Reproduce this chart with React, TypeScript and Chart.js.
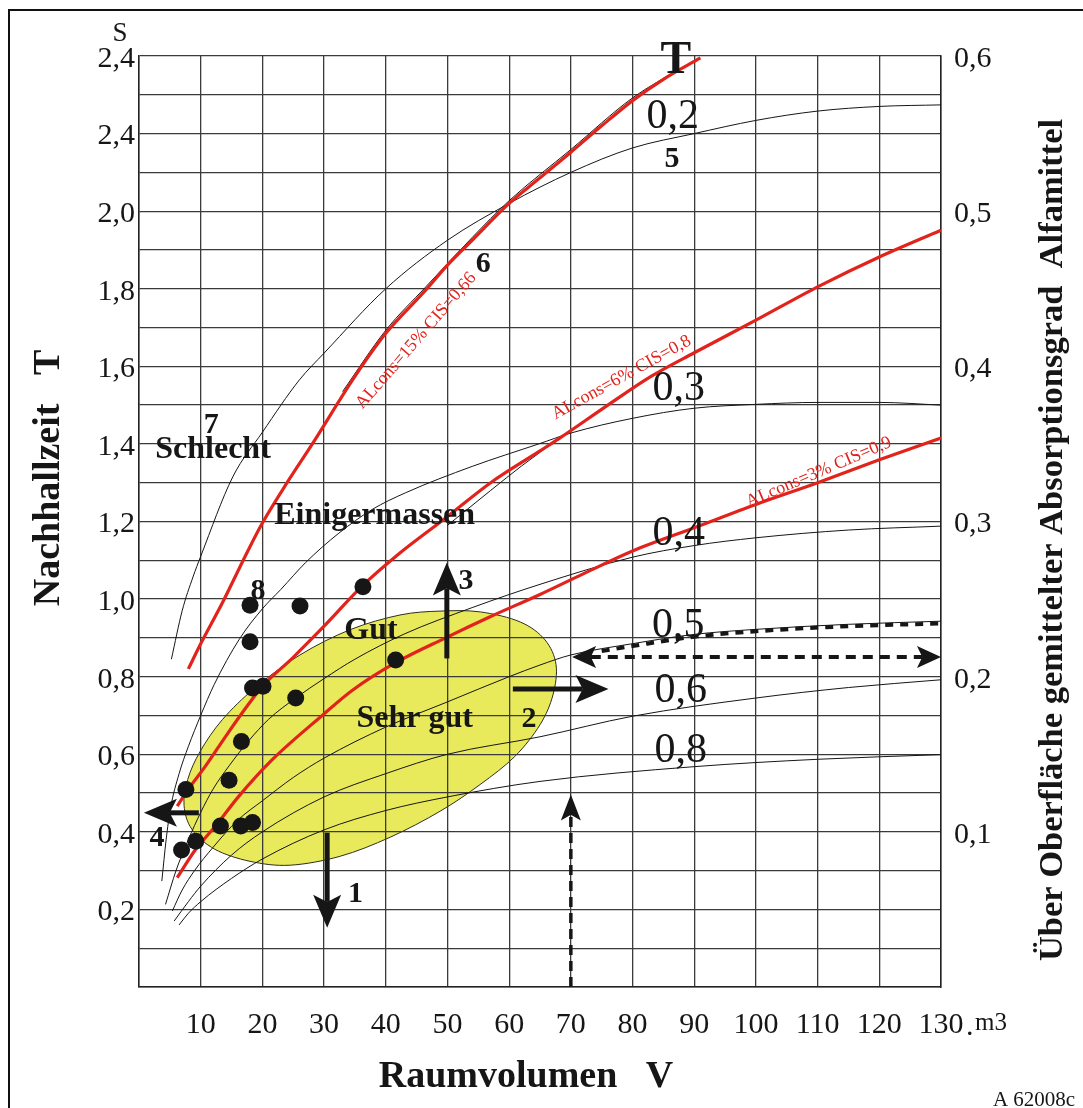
import React, { useEffect, useRef } from 'react';
import { Chart, registerables } from 'chart.js';

Chart.register(...registerables);

type P = [number, number];

// ---- axis ticks ----
const xTickValues = [10, 20, 30, 40, 50, 60, 70, 80, 90, 100, 110, 120, 130];
const xTickLabels = ['10', '20', '30', '40', '50', '60', '70', '80', '90', '100', '110', '120', '130'];
const leftTickValues = [0.2, 0.4, 0.6, 0.8, 1.0, 1.2, 1.4, 1.6, 1.8, 2.0, 2.2, 2.4];
const leftTickLabels = ['0,2', '0,4', '0,6', '0,8', '1,0', '1,2', '1,4', '1,6', '1,8', '2,0', '2,4', '2,4'];
const rightTickValues = [0.1, 0.2, 0.3, 0.4, 0.5, 0.6];
const rightTickLabels = ['0,1', '0,2', '0,3', '0,4', '0,5', '0,6'];

// ---- black reverberation-time curves (V in m3, T in s) ----
const curveA02: P[] = [[5.25, 0.845], [7, 0.97], [8.75, 1.057], [10, 1.11], [15.2, 1.315], [20, 1.43], [26, 1.565], [30, 1.634], [40, 1.8], [50, 1.925], [60, 2.02], [70, 2.1], [80, 2.163], [90, 2.2], [100, 2.234], [110, 2.258], [120, 2.27], [130, 2.274]];
const curveA03: P[] = [[3.7, 0.273], [4.4, 0.38], [5.1, 0.46], [6.5, 0.55], [8, 0.62], [10, 0.7], [12.2, 0.78], [16.2, 0.895], [20, 0.975], [23, 1.025], [27, 1.094], [32.4, 1.17], [37.8, 1.231], [43.2, 1.274], [54, 1.342], [64.8, 1.4], [70, 1.428], [80, 1.466], [90, 1.492], [100, 1.502], [110, 1.507], [120, 1.507], [130, 1.5]];
const curveA04: P[] = [[4.3, 0.213], [6, 0.3], [8, 0.38], [10, 0.45], [12, 0.51], [14.6, 0.57], [17.8, 0.635], [21, 0.69], [25.4, 0.745], [30, 0.795], [35, 0.845], [43, 0.91], [54, 0.978], [65, 1.038], [80, 1.108], [90, 1.138], [100, 1.158], [115, 1.178], [130, 1.188]];
const curveA05: P[] = [[5.4, 0.196], [7, 0.25], [9, 0.3], [12, 0.36], [16, 0.43], [20, 0.48], [25, 0.54], [30, 0.59], [40, 0.67], [50, 0.735], [60, 0.8], [65, 0.83], [70, 0.856], [80, 0.885], [90, 0.909], [100, 0.922], [115, 0.935], [130, 0.943]];
const curveA06: P[] = [[5.7, 0.17], [8, 0.22], [10, 0.26], [15, 0.34], [20, 0.4], [30, 0.49], [40, 0.55], [50, 0.6], [65, 0.645], [80, 0.698], [100, 0.745], [115, 0.772], [130, 0.792]];
const curveA08: P[] = [[6.5, 0.16], [8, 0.19], [10, 0.22], [15, 0.28], [20, 0.33], [30, 0.405], [40, 0.455], [50, 0.49], [65, 0.53], [90, 0.568], [110, 0.587], [130, 0.599]];
const curveAlong15: P[] = [[33, 1.535], [40, 1.693], [46.5, 1.805], [54, 1.932], [60, 2.027], [70, 2.159], [80, 2.292], [88, 2.37]];
const curveAlong6: P[] = [[50, 1.19], [57, 1.28], [62, 1.343], [68.2, 1.415]];

// ---- red ALcons curves ----
const alcons15: P[] = [[8, 0.82], [10, 0.885], [13.5, 0.99], [17.7, 1.126], [20, 1.196], [24, 1.3], [28.1, 1.4], [35, 1.574], [40, 1.685], [46.5, 1.797], [50, 1.861], [54, 1.925], [60, 2.02], [65, 2.086], [70, 2.152], [75, 2.22], [80, 2.285], [85, 2.34], [91, 2.395]];
const alcons6: P[] = [[6.2, 0.466], [8, 0.51], [10.8, 0.57], [14, 0.645], [17.8, 0.73], [20, 0.775], [25, 0.85], [30, 0.93], [36.2, 1.034], [42, 1.115], [49.7, 1.209], [57, 1.3], [64.8, 1.38], [68.2, 1.415], [76, 1.5], [83, 1.574], [90, 1.635], [100, 1.719], [110, 1.805], [120, 1.882], [130, 1.951]];
const alcons3: P[] = [[6.2, 0.282], [9.2, 0.355], [12.4, 0.415], [16.2, 0.492], [21.6, 0.586], [29.7, 0.7], [34.6, 0.765], [41.6, 0.836], [49.7, 0.9], [57, 0.955], [65, 1.012], [72, 1.065], [80, 1.124], [90, 1.184], [100, 1.244], [110, 1.3], [120, 1.359], [130, 1.415]];

// dotted line along the 0,5 curve
const dotted05: P[] = [[75, 0.866], [80, 0.879], [90, 0.903], [100, 0.917], [115, 0.93], [130, 0.937]];

// measured rooms
const roomPoints: P[] = [[18.0, 0.984], [26.1, 0.982], [18.0, 0.89], [36.3, 1.032], [41.6, 0.843], [18.4, 0.771], [20.1, 0.775], [25.4, 0.745], [16.6, 0.633], [14.6, 0.533], [7.6, 0.509], [13.2, 0.415], [16.5, 0.415], [18.4, 0.424], [9.2, 0.376], [6.9, 0.353]];

// "Sehr gut" zone outline
const zoneOutline: P[] = [[26.1, 0.856], [34.2, 0.921], [42.3, 0.959], [48.8, 0.969], [55.3, 0.967], [61.8, 0.941], [65.8, 0.895], [67.6, 0.831], [67.1, 0.753], [65.0, 0.676], [60.9, 0.594], [55.3, 0.522], [48.8, 0.453], [40.7, 0.386], [32.6, 0.337], [24.5, 0.314], [18.0, 0.324], [12.3, 0.355], [8.6, 0.406], [7.3, 0.468], [7.9, 0.535], [9.9, 0.607], [13.5, 0.689], [18.8, 0.771]];

// arrows (V, T)
const solidArrows: { from: P; to: P }[] = [
  { from: [30.5, 0.398], to: [30.5, 0.153] },
  { from: [60.6, 0.768], to: [76.1, 0.768] },
  { from: [49.9, 0.847], to: [49.9, 1.094] },
  { from: [9.7, 0.449], to: [0.8, 0.449] },
];
const dashedDoubleArrow: { from: P; to: P } = { from: [70.2, 0.851], to: [130, 0.851] };
const dashedUpArrow: { from: P; to: P } = { from: [70, 0], to: [70, 0.496] };

// labels inside the plot: text, V, T (baseline)
const plotLabels: { text: string; v: number; t: number; kind: string }[] = [
  { text: 'T', v: 87.0, t: 2.355, kind: 'big' },
  { text: '0,2', v: 86.5, t: 2.214, kind: 'alpha' },
  { text: '5', v: 86.4, t: 2.114, kind: 'num' },
  { text: '6', v: 55.8, t: 1.844, kind: 'num' },
  { text: '0,3', v: 87.5, t: 1.512, kind: 'alpha' },
  { text: '0,4', v: 87.5, t: 1.139, kind: 'alpha' },
  { text: '0,5', v: 87.4, t: 0.903, kind: 'alpha' },
  { text: '0,6', v: 87.8, t: 0.735, kind: 'alpha' },
  { text: '0,8', v: 87.8, t: 0.579, kind: 'alpha' },
  { text: '7', v: 11.7, t: 1.427, kind: 'num' },
  { text: 'Schlecht', v: 12.0, t: 1.364, kind: 'zone' },
  { text: 'Einigermassen', v: 38.2, t: 1.193, kind: 'zone' },
  { text: 'Gut', v: 37.6, t: 0.897, kind: 'zone' },
  { text: 'Sehr gut', v: 44.7, t: 0.669, kind: 'zone' },
  { text: '8', v: 19.3, t: 1.0, kind: 'num' },
  { text: '3', v: 53.0, t: 1.026, kind: 'num' },
  { text: '2', v: 63.2, t: 0.669, kind: 'num' },
  { text: '1', v: 35.1, t: 0.219, kind: 'num' },
  { text: '4', v: 2.9, t: 0.363, kind: 'num' },
];
const curveNotes: { text: string; v: number; t: number; angle: number }[] = [
  { text: 'ALcons=15% CIS=0,66', v: 44.9, t: 1.666, angle: -49 },
  { text: 'ALcons=6% CIS=0,8', v: 78.2, t: 1.571, angle: -29 },
  { text: 'ALcons=3% CIS=0,9', v: 110.2, t: 1.327, angle: -23 },
];

const SERIF = '"Liberation Serif", "Times New Roman", serif';
const RED = '#e2231c';
const INK = '#161616';
const labelFonts: Record<string, string> = {
  big: `bold 46px ${SERIF}`,
  alpha: `42px ${SERIF}`,
  num: `bold 30px ${SERIF}`,
  zone: `bold 32px ${SERIF}`,
};

const toXY = (arr: P[]) => arr.map(([x, y]) => ({ x, y }));

function findLabel(values: number[], labels: string[], value: number): string {
  const i = values.findIndex((v) => Math.abs(v - value) < 1e-6);
  return i >= 0 ? labels[i] : '';
}

function smoothClosed(ctx: CanvasRenderingContext2D, pts: { x: number; y: number }[]) {
  const n = pts.length;
  ctx.beginPath();
  ctx.moveTo(pts[0].x, pts[0].y);
  for (let i = 0; i < n; i++) {
    const p0 = pts[(i - 1 + n) % n];
    const p1 = pts[i];
    const p2 = pts[(i + 1) % n];
    const p3 = pts[(i + 2) % n];
    ctx.bezierCurveTo(
      p1.x + (p2.x - p0.x) / 6, p1.y + (p2.y - p0.y) / 6,
      p2.x - (p3.x - p1.x) / 6, p2.y - (p3.y - p1.y) / 6,
      p2.x, p2.y,
    );
  }
  ctx.closePath();
}

function arrowHead(ctx: CanvasRenderingContext2D, tx: number, ty: number, ang: number, len: number, w: number) {
  const cos = Math.cos(ang), sin = Math.sin(ang);
  const bx = tx - len * cos, by = ty - len * sin;
  const nx = tx - len * 0.78 * cos, ny = ty - len * 0.78 * sin;
  ctx.beginPath();
  ctx.moveTo(tx, ty);
  ctx.lineTo(bx - (w / 2) * sin, by + (w / 2) * cos);
  ctx.lineTo(nx, ny);
  ctx.lineTo(bx + (w / 2) * sin, by - (w / 2) * cos);
  ctx.closePath();
  ctx.fill();
  return { nx, ny };
}

const overlayPlugin = {
  id: 'overlay',
  beforeDraw(chart: any) {
    const { ctx, scales } = chart;
    const xs = scales.x, ys = scales.y;
    const pts = zoneOutline.map(([v, t]) => ({ x: xs.getPixelForValue(v), y: ys.getPixelForValue(t) }));
    ctx.save();
    smoothClosed(ctx, pts);
    ctx.fillStyle = '#e8ea5c';
    ctx.fill();
    ctx.lineWidth = 1;
    ctx.strokeStyle = '#2e2e1a';
    ctx.stroke();
    ctx.restore();
  },
  afterDraw(chart: any) {
    const { ctx, scales } = chart;
    const xs = scales.x, ys = scales.y;
    const px = (v: number) => xs.getPixelForValue(v);
    const py = (t: number) => ys.getPixelForValue(t);
    ctx.save();
    ctx.fillStyle = INK;
    ctx.strokeStyle = INK;

    // solid arrows
    for (const a of solidArrows) {
      const x1 = px(a.from[0]), y1 = py(a.from[1]);
      const x2 = px(a.to[0]), y2 = py(a.to[1]);
      const ang = Math.atan2(y2 - y1, x2 - x1);
      const { nx, ny } = arrowHead(ctx, x2, y2, ang, 33, 28);
      ctx.lineWidth = 5;
      ctx.setLineDash([]);
      ctx.beginPath();
      ctx.moveTo(x1, y1);
      ctx.lineTo(nx, ny);
      ctx.stroke();
    }
    // dashed double arrow
    {
      const x1 = px(dashedDoubleArrow.from[0]), y1 = py(dashedDoubleArrow.from[1]);
      const x2 = px(dashedDoubleArrow.to[0]), y2 = py(dashedDoubleArrow.to[1]);
      const ang = Math.atan2(y2 - y1, x2 - x1);
      const h1 = arrowHead(ctx, x1, y1, ang + Math.PI, 24, 22);
      const h2 = arrowHead(ctx, x2, y2, ang, 24, 22);
      ctx.lineWidth = 4;
      ctx.setLineDash([10, 7]);
      ctx.beginPath();
      ctx.moveTo(h1.nx, h1.ny);
      ctx.lineTo(h2.nx, h2.ny);
      ctx.stroke();
    }
    // dashed up arrow
    {
      const x1 = px(dashedUpArrow.from[0]), y1 = py(dashedUpArrow.from[1]);
      const x2 = px(dashedUpArrow.to[0]), y2 = py(dashedUpArrow.to[1]);
      const ang = Math.atan2(y2 - y1, x2 - x1);
      const h = arrowHead(ctx, x2, y2, ang, 26, 20);
      ctx.lineWidth = 3.5;
      ctx.setLineDash([10, 6]);
      ctx.beginPath();
      ctx.moveTo(x1, y1);
      ctx.lineTo(h.nx, h.ny);
      ctx.stroke();
    }
    ctx.setLineDash([]);

    // labels in plot
    ctx.textAlign = 'center';
    ctx.textBaseline = 'alphabetic';
    for (const l of plotLabels) {
      ctx.font = labelFonts[l.kind];
      ctx.fillText(l.text, px(l.v), py(l.t));
    }
    // red curve notes
    ctx.fillStyle = RED;
    ctx.font = `18px ${SERIF}`;
    ctx.textBaseline = 'middle';
    for (const n of curveNotes) {
      ctx.save();
      ctx.translate(px(n.v), py(n.t));
      ctx.rotate((n.angle * Math.PI) / 180);
      ctx.fillText(n.text, 0, 0);
      ctx.restore();
    }

    // axis titles and page texts
    ctx.fillStyle = INK;
    ctx.textBaseline = 'alphabetic';
    ctx.textAlign = 'center';
    ctx.save();
    ctx.translate(59, 478);
    ctx.rotate(-Math.PI / 2);
    ctx.font = `bold 38px ${SERIF}`;
    ctx.fillText('Nachhallzeit   T', 0, 0);
    ctx.restore();

    ctx.save();
    ctx.translate(1062, 540);
    ctx.rotate(-Math.PI / 2);
    ctx.font = `bold 34.5px ${SERIF}`;
    ctx.fillText('Über Oberfläche gemittelter Absorptionsgrad  Alfamittel', 0, 0);
    ctx.restore();

    ctx.font = `bold 38px ${SERIF}`;
    ctx.fillText('Raumvolumen   V', 526, 1087);

    ctx.font = `27px ${SERIF}`;
    ctx.fillText('S', 120, 41);

    ctx.textAlign = 'left';
    ctx.font = `30px ${SERIF}`;
    ctx.fillText('.', 966, 1035);
    ctx.font = `25px ${SERIF}`;
    ctx.fillText('m3', 975, 1030);

    ctx.textAlign = 'center';
    ctx.font = `21px ${SERIF}`;
    ctx.fillText('A 62008c', 1034, 1106);

    // page frame
    ctx.lineWidth = 2;
    ctx.strokeStyle = '#111';
    ctx.beginPath();
    ctx.moveTo(9, 1108);
    ctx.lineTo(9, 10);
    ctx.lineTo(1083, 10);
    ctx.stroke();
    ctx.restore();
  },
};

const curveStyle = { showLine: true, pointRadius: 0, fill: false, tension: 0.4, cubicInterpolationMode: 'monotone' as const };

export default function App() {
  const ref = useRef<HTMLCanvasElement>(null);

  useEffect(() => {
    const canvas = ref.current;
    if (!canvas) return;
    const gridColor = '#3a3a3a';
    const blackCurve = (data: P[]) => ({ ...curveStyle, data: toXY(data), borderColor: INK, borderWidth: 1, order: 5 });
    const redCurve = (data: P[]) => ({ ...curveStyle, data: toXY(data), borderColor: RED, borderWidth: 3.2, order: 3 });

    const chart = new Chart(canvas, {
      type: 'scatter',
      data: {
        datasets: [
          blackCurve(curveA02),
          blackCurve(curveA03),
          blackCurve(curveA04),
          blackCurve(curveA05),
          blackCurve(curveA06),
          blackCurve(curveA08),
          blackCurve(curveAlong15),
          blackCurve(curveAlong6),
          { ...curveStyle, data: toXY(dotted05), borderColor: INK, borderWidth: 4, borderDash: [8, 7], order: 4 },
          redCurve(alcons15),
          redCurve(alcons6),
          redCurve(alcons3),
          {
            data: toXY(roomPoints),
            showLine: false,
            pointRadius: 8.5,
            pointBackgroundColor: INK,
            pointBorderWidth: 0,
            order: 1,
          },
        ] as any,
      },
      options: {
        responsive: false,
        animation: false,
        devicePixelRatio: 1,
        events: [],
        layout: { padding: { top: 56, left: 0, right: 0, bottom: 0 } },
        plugins: { legend: { display: false }, tooltip: { enabled: false } },
        scales: {
          x: {
            type: 'linear',
            min: 0,
            max: 130,
            position: 'bottom',
            afterFit: (s: any) => { s.height = 121; },
            ticks: {
              stepSize: 10,
              autoSkip: false,
              maxRotation: 0,
              padding: 20,
              color: INK,
              font: { family: SERIF, size: 30 },
              callback: (value: any) => findLabel(xTickValues, xTickLabels, Number(value)),
            },
            grid: { color: gridColor, lineWidth: 1.3, drawTicks: false },
            border: { display: true, color: '#222', width: 1.5 },
          },
          y: {
            type: 'linear',
            min: 0,
            max: 2.4,
            position: 'left',
            afterFit: (s: any) => { s.width = 139; },
            ticks: {
              stepSize: 0.1,
              autoSkip: false,
              padding: 4,
              labelOffset: 3,
              color: INK,
              font: { family: SERIF, size: 30 },
              callback: (value: any) => findLabel(leftTickValues, leftTickLabels, Number(value)),
            },
            grid: { color: gridColor, lineWidth: 1.3, drawTicks: false },
            border: { display: true, color: '#222', width: 1.5 },
          },
          y2: {
            type: 'linear',
            min: 0,
            max: 0.6,
            position: 'right',
            afterFit: (s: any) => { s.width = 142; },
            ticks: {
              stepSize: 0.1,
              autoSkip: false,
              padding: 13,
              labelOffset: 3,
              color: INK,
              font: { family: SERIF, size: 30 },
              callback: (value: any) => findLabel(rightTickValues, rightTickLabels, Number(value)),
            },
            grid: { drawOnChartArea: false, drawTicks: false },
            border: { display: true, color: '#222', width: 1.5 },
          },
        },
      } as any,
      plugins: [overlayPlugin],
    });
    return () => chart.destroy();
  }, []);

  return (
    <div style={{ position: 'absolute', left: 0, top: 0, width: 1083, height: 1108, background: '#fff' }}>
      <canvas ref={ref} width={1083} height={1108} style={{ display: 'block', width: 1083, height: 1108 }} />
    </div>
  );
}
